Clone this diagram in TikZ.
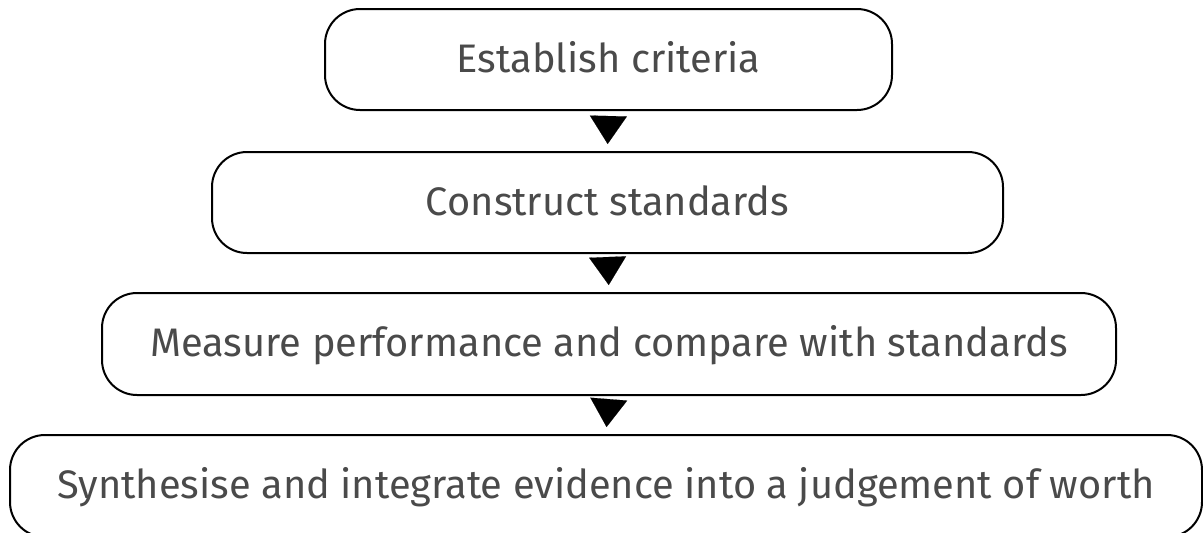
\documentclass[tikz,border=0pt]{standalone}
\usepackage{fontspec}
\setmainfont{Fira Sans}
\usetikzlibrary{arrows.meta}
\definecolor{txtgray}{HTML}{4A4A4A}
\tikzset{
  stepbox/.style={draw=black, line width=2pt, rounded corners=35pt, fill=white,
    inner sep=0pt, minimum height=101pt, text=txtgray,
    text height=28pt, text depth=3pt,
    font=\fontsize{39.8}{46}\selectfont},
  flowarrow/.style={line width=0.1pt, shorten <=7pt, shorten >=7pt,
    -{Triangle[width=37pt,length=28pt]}}
}
\begin{document}
\begin{tikzpicture}[x=1pt,y=-1pt]
\useasboundingbox (0,0) rectangle (1203,533);
\node[stepbox, minimum width=567pt] (b1) at (608.5,59.5) {Establish criteria};
\node[stepbox, minimum width=791pt] (b2) at (607.5,202.5) {Construct standards};
\node[stepbox, minimum width=1014pt, minimum height=102pt] (b3) at (609,344) {Measure performance and compare with standards};
\node[stepbox, minimum width=1192pt, minimum height=102pt] (b4) at (606,486) {Synthesise and integrate evidence into a judgement of worth};
\draw[flowarrow] (b1.south) -- (b2.north);
\draw[flowarrow] (b2.south) -- (b3.north);
\draw[flowarrow] (b3.south) -- (b4.north);
\end{tikzpicture}
\end{document}
